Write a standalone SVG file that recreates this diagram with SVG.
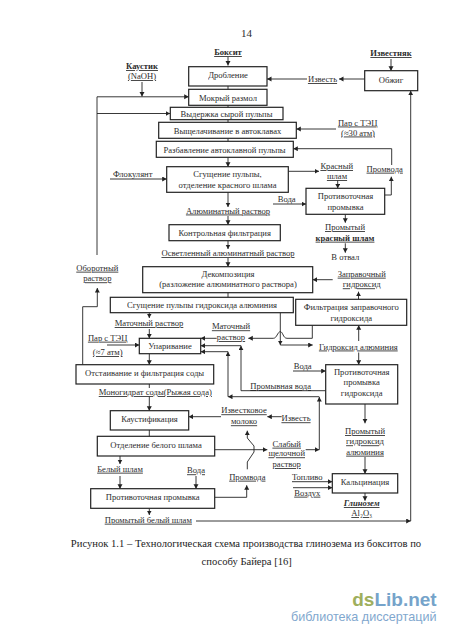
<svg xmlns="http://www.w3.org/2000/svg" width="450" height="637" viewBox="0 0 450 637">
<style>
text{font-family:"Liberation Serif","Times New Roman",serif;font-size:8.6px;fill:#222;text-anchor:middle;opacity:.95}
.u{text-decoration:underline}
.b{font-weight:bold}
.i{font-style:italic}
.box{fill:#fff;stroke:#222;stroke-width:1.2}
.c{fill:none;stroke:#222;stroke-width:0.9}
.a{marker-end:url(#ah)}
.cap{font-size:10.6px;fill:#111}
.wm{font-family:"Liberation Sans",Arial,sans-serif;text-anchor:end}
</style>
<defs>
<marker id="ah" markerUnits="userSpaceOnUse" markerWidth="6" markerHeight="6" refX="4.5" refY="2.5" orient="auto"><path d="M0 0L4.5 2.5L0 5Z" fill="#222"/></marker>
</defs>
<rect width="450" height="637" fill="#fff"/>
<text x="246.5" y="37" style="font-size:11px">14</text>

<g id="connectors">
<path class="c a" d="M228 57V65.5"/>
<path class="c" d="M228 86V89.3M228 105.3V107.3M228 119.7V122.3M228 138.3V141.3M149.3 430V436.3M228 292.7V297.3"/>
<path class="c a" d="M228 157.3V166.7"/>
<path class="c a" d="M142 82V96.5"/>
<path class="c a" d="M97 255V96.8H188.7"/>
<path class="c a" d="M97 113.5H170"/>
<path class="c a" d="M364.7 79H339"/>
<path class="c a" d="M307 79H267"/>
<path class="c a" d="M391 59V70.7"/>
<path class="c a" d="M196 521H410.7"/>
<path class="c a" d="M410.7 521V90.7"/>
<path class="c a" d="M336 129H296.3"/>
<path class="c a" d="M384.7 195H391.3V176.7"/>
<path class="c a" d="M391.7 165V148.7H293.3"/>
<path class="c a" d="M288.3 171.3H319"/>
<path class="c a" d="M337.7 180.5V188.3"/>
<path class="c a" d="M273 204H306"/>
<path class="c a" d="M110 179H166.7"/>
<path class="c a" d="M228 192.3V207"/>
<path class="c a" d="M228 216V224.7"/>
<path class="c a" d="M228 240.7V249"/>
<path class="c a" d="M228 258V266.7"/>
<path class="c a" d="M345.3 214.3V222.7"/>
<path class="c a" d="M345.3 243.3V252.7"/>
<path class="c a" d="M149.3 312.7V318"/>
<path class="c a" d="M149.3 329V338.3"/>
<path class="c a" d="M107 345H139.3"/>
<path class="c a" d="M149.3 353.7V364.7"/>
<path class="c a" d="M82.7 364.7V306.7H97.3V288"/>
<path class="c a" d="M332.7 279.7H312.7"/>
<path class="c a" d="M358.5 299.3V291.7"/>
<path class="c a" d="M358.7 341V325.3"/>
<path class="c a" d="M358.7 352.5V364.7"/>
<path class="c a" d="M280.3 312.7V345"/>
<path class="c a" d="M280.3 345H312.7"/>
<path class="c a" d="M312.3 325.3V338.3H287C283 338.3 283 331.7 280.3 331.7C277.5 331.7 277 338.3 273.3 338.3H248.3"/>
<path class="c a" d="M216.7 338.3H200.7"/>
<path class="c a" d="M325.7 390.7H241V345.7"/>
<path class="c a" d="M241 345.7H200.7"/>
<path class="c a" d="M319.3 396.7H228"/>
<path class="c a" d="M228 396.7V351.7"/>
<path class="c a" d="M228 351.7H200.7"/>
<path class="c a" d="M214.7 449.7H267.3"/>
<path class="c a" d="M305.7 449.7H319.3"/>
<path class="c a" d="M319.3 449.7V397"/>
<path class="c a" d="M293 371H325.7"/>
<path class="c a" d="M365 404V423.3"/>
<path class="c a" d="M365 457V473.7"/>
<path class="c a" d="M292 481.7H332.3"/>
<path class="c a" d="M293 487.7H332.3"/>
<path class="c a" d="M365 493V500.7"/>
<path class="c a" d="M149.3 508.3V515"/>
<path class="c a" d="M120 456V464"/>
<path class="c a" d="M120 476V488.7"/>
<path class="c a" d="M196 476V488.7"/>
<path class="c a" d="M214.7 497.3H246.7V485.3"/>
<path class="c a" d="M247.3 469.3V462L254 452V446L247.3 438V430.7"/>
<path class="c a" d="M221 416.7H188.7"/>
<path class="c a" d="M281.7 416.7H267.3"/>
<path class="c" d="M149.3 384V388"/>
<path class="c a" d="M149.3 396.7V410.7"/>
</g>

<g id="n-drobl"><rect class="box" x="188.7" y="66.7" width="78.3" height="19.3"/><text x="228" y="78">Дробление</text></g>
<g id="n-razmol"><rect class="box" x="188.7" y="89.3" width="78.3" height="16"/><text x="228" y="100.5">Мокрый размол</text></g>
<g id="n-vyderzh"><rect class="box" x="170.3" y="107.3" width="112.7" height="12.4"/><text x="226.5" y="116.5">Выдержка сырой пульпы</text></g>
<g id="n-vyshch"><rect class="box" x="158.7" y="122.3" width="137.6" height="16"/><text x="227.5" y="133.5">Выщелачивание в автоклавах</text></g>
<g id="n-razb"><rect class="box" x="156.3" y="141.3" width="137" height="16"/><text x="224.5" y="152.5">Разбавление автоклавной пульпы</text></g>
<g id="n-sgush"><rect class="box" x="166.7" y="166.7" width="121.6" height="25.6"/><text x="227.5" y="177">Сгущение пульпы,</text><text x="227.5" y="187.5">отделение красного шлама</text></g>
<g id="n-protiv1"><rect class="box" x="306" y="188.3" width="78.7" height="26"/><text x="345.5" y="199">Противоточная</text><text x="345.5" y="209.5">промывка</text></g>
<g id="n-obzhig"><rect class="box" x="364.7" y="70.7" width="53" height="20"/><text x="391" y="83">Обжиг</text></g>
<g id="n-kontrol"><rect class="box" x="169" y="224.7" width="111.3" height="16"/><text x="224.7" y="235.5">Контрольная фильтрация</text></g>
<g id="n-dekomp"><rect class="box" x="142.7" y="266.7" width="170" height="26"/><text x="228" y="277">Декомпозиция</text><text x="228" y="287">(разложение алюминатного раствора)</text></g>
<g id="n-sgush2"><rect class="box" x="110.3" y="297.3" width="183" height="15.4"/><text x="202" y="307.5">Сгущение пульпы гидроксида алюминия</text></g>
<g id="n-filtr"><rect class="box" x="295.7" y="299.3" width="111" height="26"/><text x="351.3" y="310">Фильтрация заправочного</text><text x="351.3" y="320.5">гидроксида</text></g>
<g id="n-upar"><rect class="box" x="139.3" y="338.3" width="61.4" height="15.4"/><text x="170" y="348.7">Упаривание</text></g>
<g id="n-otst"><rect class="box" x="76" y="364.7" width="137.7" height="19.3"/><text x="144.5" y="376">Отстаивание и фильтрация соды</text></g>
<g id="n-protiv2"><rect class="box" x="325.7" y="364.7" width="72" height="39.3"/><text x="361.7" y="375">Противоточная</text><text x="361.7" y="385.3">промывка</text><text x="361.7" y="395.5">гидроксида</text></g>
<g id="n-kaust"><rect class="box" x="110.3" y="410.7" width="78.4" height="19.3"/><text x="149.5" y="421.5">Каустификация</text></g>
<g id="n-otdel"><rect class="box" x="97.3" y="436.3" width="117.4" height="19.7"/><text x="156" y="447.5">Отделение белого шлама</text></g>
<g id="n-protiv3"><rect class="box" x="90.7" y="488.7" width="124" height="19.6"/><text x="152.7" y="499.7">Противоточная промывка</text></g>
<g id="n-kalc"><rect class="box" x="332.3" y="473.7" width="65.4" height="19.3"/><text x="365" y="484.5">Кальцинация</text></g>

<g id="labels">
<text class="u b" x="228" y="55">Боксит</text>
<text class="u b" x="142" y="69">Каустик</text>
<text class="u" x="142" y="79">(NaOH)</text>
<text class="u b" x="391" y="56">Известняк</text>
<text class="u" x="322.5" y="82">Известь</text>
<text class="u" x="357.7" y="125.5">Пар с ТЭЦ</text>
<text class="u" x="358" y="135.5">(≈30 атм)</text>
<text class="u" x="384.7" y="171.7">Промвода</text>
<text class="u" x="336.7" y="169">Красный</text>
<text class="u" x="337" y="179">шлам</text>
<text x="286.7" y="202">Вода</text>
<text x="132.7" y="176.5">Флокулянт</text>
<text class="u" x="228" y="213.5">Алюминатный раствор</text>
<text class="u" x="345" y="230">Промытый</text>
<text class="u b" x="345" y="240.7">красный шлам</text>
<text x="345.3" y="260">В отвал</text>
<text class="u" x="228" y="256">Осветленный алюминатный раствор</text>
<text class="u" x="97.3" y="270.7">Оборотный</text>
<text class="u" x="97.3" y="281.3">раствор</text>
<text class="u" x="361.7" y="276.7">Заправочный</text>
<text class="u" x="361.7" y="287.3">гидроксид</text>
<text class="u" x="149" y="326">Маточный раствор</text>
<text class="u" x="231" y="329.3">Маточный</text>
<text class="u" x="231" y="340">раствор</text>
<text class="u" x="107.7" y="340.7">Пар с ТЭЦ</text>
<text class="u" x="107.7" y="355">(≈7 атм)</text>
<text class="u" x="358.3" y="349.5">Гидроксид алюминия</text>
<text x="302.7" y="368.7">Вода</text>
<text class="u" x="280.7" y="389">Промывная вода</text>
<text class="u" x="155.3" y="395">Моногидрат соды(Рыжая сода)</text>
<text class="u" x="244" y="413.3">Известковое</text>
<text class="u" x="244" y="424.3">молоко</text>
<text class="u" x="296" y="421.3">Известь</text>
<text class="u" x="365" y="434">Промытый</text>
<text class="u" x="365" y="444.3">гидроксид</text>
<text class="u" x="365" y="454.7">алюминия</text>
<text class="u" x="286.7" y="446.7">Слабый</text>
<text class="u" x="286.7" y="456.3">щелочной</text>
<text class="u" x="286.7" y="467">раствор</text>
<text class="u" x="120" y="471.7">Белый шлам</text>
<text class="u" x="196" y="473.3">Вода</text>
<text class="u" x="247.3" y="479.7">Промвода</text>
<text x="307.3" y="479.7">Топливо</text>
<text class="u" x="307.3" y="495.7">Воздух</text>
<text class="u b i" x="361.7" y="506">Глинозем</text>
<text class="u" x="361.7" y="516">Al₂O₃</text>
<text class="u" x="148.3" y="522.7">Промытый белый шлам</text>
</g>

<text class="cap" x="246" y="546.5">Рисунок 1.1 – Технологическая схема производства глинозема из бокситов по</text>
<text class="cap" x="246.7" y="565">способу Байера [16]</text>
<text class="wm" x="436.7" y="606" style="font-size:19px;font-weight:bold"><tspan fill="#9aab55">ds</tspan><tspan fill="#6f9fc8">Lib.net</tspan></text>
<text class="wm" x="436.5" y="620.7" style="font-size:12.6px;fill:#7aa3cc">библиотека диссертаций</text>
</svg>
